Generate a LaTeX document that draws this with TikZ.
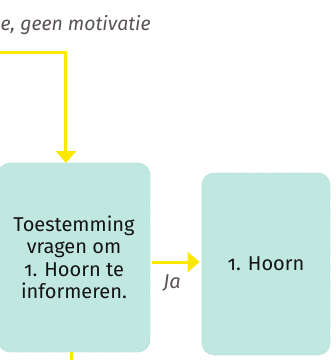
\documentclass[tikz,border=0pt]{standalone}
\usepackage{fontspec}
\setmainfont[RawFeature=+onum]{Fira Sans}
\usetikzlibrary{arrows.meta}
\definecolor{boxfill}{HTML}{C0E8E0}
\definecolor{boxline}{HTML}{A8DCD2}
\definecolor{flow}{HTML}{FFE800}
\definecolor{note}{HTML}{5B5353}
\definecolor{ink}{HTML}{141414}
\tikzset{
  stepbox/.style={draw=boxline, densely dotted, line width=0.8pt, fill=boxfill, rounded corners=12pt,
    align=center, text=ink, font=\fontsize{20}{22.5}\selectfont, inner sep=0pt},
  flowline/.style={draw=flow, line width=3pt},
  flowarrow/.style={flowline, -{Triangle[width=20pt,length=12pt]}},
  notetext/.style={text=note, font=\fontsize{20}{22}\selectfont\itshape, inner sep=0pt}
}
\begin{document}
\begin{tikzpicture}[x=1pt,y=1pt]
\useasboundingbox (0,0) rectangle (336,360);
\node[stepbox, minimum width=152pt, minimum height=189pt] (lb) at (74,102.5)
  {Toestemming\\vragen om\\1. Hoorn te\\informeren.};
\node[stepbox, minimum width=128pt, minimum height=182pt] (rb) at (266,96) {1. Hoorn};
\node[notetext, font=\fontsize{19.4}{22}\selectfont\itshape, anchor=base west] (nt) at (0.5,330) {e, geen motivatie};
\coordinate (tl) at (-2,308);
\coordinate (tin) at (66,197);
\draw[flowarrow] (tl) -| (tin);
\coordinate (bout) at (72,-2);
\draw[flowline] (lb.south -| bout) -- (bout);
\coordinate (j) at (0,98);
\draw[flowarrow] ([xshift=2pt]lb.east |- j) -- ([xshift=-2pt]rb.west |- j);
\node[notetext] (ja) at (172,77) {Ja};
\end{tikzpicture}
\end{document}
